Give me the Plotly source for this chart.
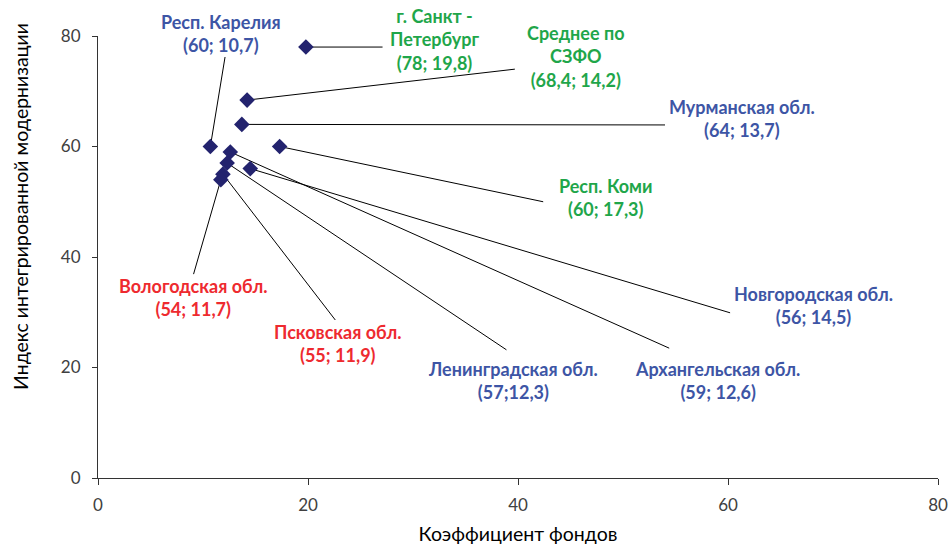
import plotly.graph_objects as go

# ---- data ----
regions = ["Респ. Карелия", "г. Санкт -Петербург", "Среднее по СЗФО", "Мурманская обл.",
           "Респ. Коми", "Новгородская обл.", "Архангельская обл.", "Ленинградская обл.",
           "Псковская обл.", "Вологодская обл."]
fund_coef = [10.7, 19.8, 14.2, 13.7, 17.3, 14.5, 12.6, 12.3, 11.9, 11.7]
modern_index = [60, 78, 68.4, 64, 60, 56, 59, 57, 55, 54]
label_texts = ["Респ. Карелия<br>(60; 10,7)",
               "г. Санкт -<br>Петербург<br>(78; 19,8)",
               "Среднее по<br>СЗФО<br>(68,4; 14,2)",
               "Мурманская обл.<br>(64; 13,7)",
               "Респ. Коми<br>(60; 17,3)",
               "Новгородская обл.<br>(56; 14,5)",
               "Архангельская обл.<br>(59; 12,6)",
               "Ленинградская обл.<br>(57;12,3)",
               "Псковская обл.<br>(55; 11,9)",
               "Вологодская обл.<br>(54; 11,7)"]
x_ticks = [0, 20, 40, 60, 80]
y_ticks = [0, 20, 40, 60, 80]

# ---- layout helpers (label placement, not data) ----
BLUE, GREEN, RED = "#3D55A5", "#1FA64A", "#EE2A2F"
label_colors = [BLUE, GREEN, GREEN, BLUE, GREEN, BLUE, BLUE, BLUE, RED, RED]
label_pos = [(11.7, 80.5), (32.0, 79.3), (45.5, 76.2), (61.3, 65.0), (48.3, 50.7),
             (68.1, 31.3), (59.0, 17.6), (39.5, 17.6), (22.9, 24.3), (9.0, 32.6)]
line_end = [(12.1, 76.2), (27.1, 78.0), (39.7, 74.0), (54.0, 63.9), (42.4, 50.0),
            (60.2, 29.9), (54.4, 23.5), (38.9, 23.2), (22.6, 28.6), (9.1, 36.9)]

FONT = "Lato"
XMAX, YMAX = 80, 80

fig = go.Figure()
fig.add_trace(go.Scatter(
    x=fund_coef, y=modern_index, mode="markers", text=regions,
    marker=dict(symbol="diamond", size=12, color="#23236E"),
    cliponaxis=False, showlegend=False,
))

shapes = []
annotations = []
for i in range(len(regions)):
    ex, ey = line_end[i]
    shapes.append(dict(type="line", xref="x", yref="y", x0=fund_coef[i], y0=modern_index[i],
                       x1=ex, y1=ey, line=dict(color="#000000", width=1), layer="below"))
    lx, ly = label_pos[i]
    annotations.append(dict(x=lx / XMAX, y=ly / YMAX, xref="paper", yref="paper",
                            text=label_texts[i], showarrow=False,
                            font=dict(family=FONT, size=18, color=label_colors[i], weight="bold"),
                            xanchor="center", yanchor="middle", align="center"))

annotations.append(dict(x=-0.093, y=0.615, xref="paper", yref="paper",
                        text="Индекс интегрированной модернизации", textangle=-90,
                        showarrow=False, font=dict(family=FONT, size=19.5, color="#000000"),
                        xanchor="center", yanchor="middle"))

fig.update_layout(
    width=951, height=545,
    margin=dict(l=98, r=13, t=36, b=67, autoexpand=False),
    paper_bgcolor="white", plot_bgcolor="white",
    shapes=shapes, annotations=annotations,
    xaxis=dict(range=[0, XMAX], tickvals=x_ticks, showgrid=False, zeroline=False,
               showline=True, linecolor="#333333", linewidth=1,
               ticks="outside", ticklen=6, tickcolor="#333333", ticklabelstandoff=6,
               tickfont=dict(family=FONT, size=17, color="#404040"),
               title=dict(text="Коэффициент фондов", font=dict(family=FONT, size=19.5, color="#000000"),
                          standoff=26)),
    yaxis=dict(range=[0, YMAX], tickvals=y_ticks, showgrid=False, zeroline=False,
               showline=True, linecolor="#333333", linewidth=1,
               ticks="outside", ticklen=5, tickcolor="#333333", ticklabelstandoff=8,
               tickfont=dict(family=FONT, size=17, color="#404040")),
)

fig.write_html("out.html", config={"displayModeBar": False},
               post_script="document.body.style.margin='0';document.body.style.overflow='hidden';")
